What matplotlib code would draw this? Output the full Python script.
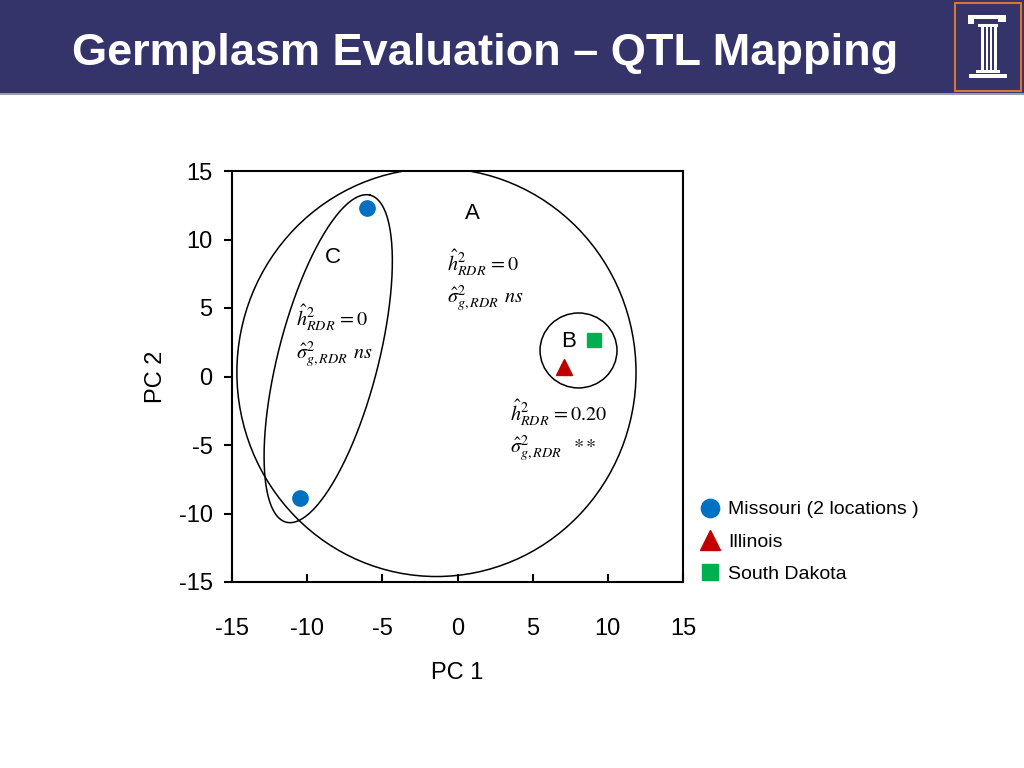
import matplotlib
matplotlib.use("Agg")
import matplotlib.pyplot as plt
import numpy as np
from matplotlib.patches import Ellipse, Rectangle

plt.rcParams['font.family'] = ['Liberation Sans', 'DejaVu Sans']
plt.rcParams['mathtext.fontset'] = 'stix'

# data
missouri_x = [-6.0, -10.5]
missouri_y = [12.3, -8.9]
illinois_x = [7.1]
illinois_y = [0.7]
dakota_x = [9.1]
dakota_y = [2.7]

ticks = [-15, -10, -5, 0, 5, 10, 15]
tick_labels = ["-15", "-10", "-5", "0", "5", "10", "15"]

title = "Germplasm Evaluation \u2013 QTL Mapping"
navy = "#34336A"

fig = plt.figure(figsize=(10.24, 7.68), dpi=100)

# title bar
fig.patches.append(Rectangle((0, 1 - 93 / 768), 1, 93 / 768, transform=fig.transFigure,
                             facecolor=navy, edgecolor="none", zorder=0))
fig.patches.append(Rectangle((0, 1 - 95 / 768), 1, 2 / 768, transform=fig.transFigure,
                             facecolor="#9A9AB0", edgecolor="none", zorder=0))
fig.text(72 / 1024, 1 - 53 / 768, title, color="white", fontsize=32.5, fontweight="bold",
         va="center", ha="left")

# logo box (orange frame with a white column)
lx0, ly0 = 955 / 1024, 1 - 91 / 768
fig.patches.append(Rectangle((lx0, ly0), 66 / 1024, 88 / 768, transform=fig.transFigure,
                             facecolor=navy, edgecolor="#D9782D", linewidth=1.5))
def px(x, y, w, h):
    fig.patches.append(Rectangle((x / 1024, 1 - (y + h) / 768), w / 1024, h / 768,
                                 transform=fig.transFigure, facecolor="white",
                                 edgecolor="none"))
px(968, 15, 38, 4)   # capital top
px(968, 19, 6, 5)
px(998, 19, 8, 3)
px(978, 24, 20, 3)   # capital bottom
px(981, 27, 3, 43)   # shaft lines
px(986, 27, 2, 43)
px(990, 27, 2, 43)
px(994, 27, 3, 43)
px(976, 70, 24, 3)   # base
px(969, 74, 38, 4)

ax = fig.add_axes([232 / 1024, 1 - 582 / 768, 451 / 1024, 411 / 768])

ax.plot(missouri_x, missouri_y, "o", color="#0070C0", markersize=11, zorder=3,
        label="Missouri (2 locations )")
ax.plot(illinois_x, illinois_y, "^", color="#C00000", markersize=12, zorder=3,
        label="Illinois")
ax.plot(dakota_x, dakota_y, "s", color="#00B050", markersize=10, zorder=3,
        label="South Dakota")

# group outlines
ax.add_patch(Ellipse((-1.4, 0.3), 26.55, 29.8, fill=False, edgecolor="black", linewidth=1.1))
ax.add_patch(Ellipse((8.05, 1.9), 5.12, 5.47, fill=False, edgecolor="black", linewidth=1.1))

# tilted ellipse C, drawn round in pixel space
r = (411 / 30) / (451 / 30)
t = np.linspace(0, 2 * np.pi, 300)
phi = np.deg2rad(75.6)
a, b = 11.23, 3.33
u = a * np.cos(t) * np.cos(phi) - b * np.sin(t) * np.sin(phi)
v = a * np.cos(t) * np.sin(phi) + b * np.sin(t) * np.cos(phi)
ax.plot(-8.6 + u, 1.3 + v / r, color="black", linewidth=1.1)

ax.text(0.97, 11.9, "A", fontsize=16, ha="center", va="center")
ax.text(-8.28, 8.72, "C", fontsize=16, ha="center", va="center")
ax.text(7.42, 2.59, "B", fontsize=16, ha="center", va="center")

h0 = r"$\hat{h}^{2}_{RDR}\,=0$"
h20 = r"$\hat{h}^{2}_{RDR}\,=0.20$"
sns_ = r"$\hat{\sigma}^{2}_{g,RDR}\;\,ns$"
sstar = r"$\hat{\sigma}^{2}_{g,RDR}\;\;\;{*}\,{*}$"
fs = 14.5
ax.text(-0.7, 8.3, h0, fontsize=fs, ha="left", va="center")
ax.text(-0.7, 5.7, sns_, fontsize=fs, ha="left", va="center")
ax.text(-10.74, 4.3, h0, fontsize=fs, ha="left", va="center")
ax.text(-10.74, 1.6, sns_, fontsize=fs, ha="left", va="center")
ax.text(3.5, -2.65, h20, fontsize=fs, ha="left", va="center")
ax.text(3.5, -5.3, sstar, fontsize=fs, ha="left", va="center")

ax.set_xlim(-15, 15)
ax.set_ylim(-15, 15)
ax.set_xticks(ticks)
ax.set_xticklabels(tick_labels)
ax.set_yticks(ticks)
ax.set_yticklabels(tick_labels)
ax.tick_params(axis="x", direction="in", length=6, width=1.5, pad=26, labelsize=17)
ax.tick_params(axis="y", direction="out", length=6, width=1.5, pad=8, labelsize=17)
for lab in ax.get_yticklabels():
    lab.set_va("center_baseline")
for s in ax.spines.values():
    s.set_linewidth(1.5)

ax.set_xlabel("PC 1", fontsize=17, labelpad=16)
ax.set_ylabel("PC 2", fontsize=17, labelpad=8)

ax.legend(loc="upper left", bbox_to_anchor=(692 / 1024, 1 - 491 / 768),
          bbox_transform=fig.transFigure, frameon=False, fontsize=14,
          handlelength=0.9, handletextpad=0.45, labelspacing=0.75, borderpad=0,
          markerscale=1.2)

fig.savefig("out.png", dpi=100)
